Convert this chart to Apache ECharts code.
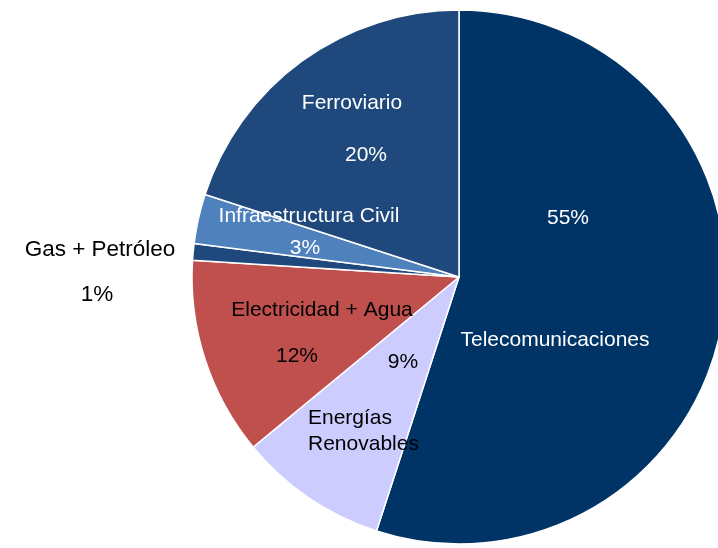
<!DOCTYPE html>
<html>
<head>
<meta charset="utf-8">
<script src="https://cdn.jsdelivr.net/npm/echarts@6/dist/echarts.min.js"></script>
<style>
html,body{margin:0;padding:0;background:#fff;}
#chart{width:718px;height:548px;}
</style>
</head>
<body>
<div id="chart"></div>
<script>
// Data
var categories = ['Telecomunicaciones', 'Energías Renovables', 'Electricidad + Agua', 'Gas + Petróleo', 'Infraestructura Civil', 'Ferroviario'];
var shares = [55, 9, 12, 1, 3, 20];

// Styles
var colors = ['#003366', '#ccccff', '#c0504d', '#1f497d', '#4f81bd', '#1f497d'];
var textColors = ['#ffffff', '#000000', '#000000', '#000000', '#ffffff', '#ffffff'];
var fontSizes = [21, 21, 21, 22.5, 21, 21];
var wrapped = [false, true, false, false, false, false];
var namePos = [[555, 340], [308, 431], [322, 310], [100, 250], [309, 216], [352, 103]];
var nameAlign = ['center', 'left', 'center', 'center', 'center', 'center'];
var pctPos = [[568, 218], [403, 362], [297, 356], [97, 295], [305, 248], [366, 155]];

var FONT = "'Liberation Sans', Arial, sans-serif";

var chart = echarts.init(document.getElementById('chart'));
chart.setOption({
  animation: false,
  backgroundColor: '#ffffff',
  series: [
    {
      type: 'pie',
      center: [459, 277],
      radius: 267,
      startAngle: 90,
      clockwise: true,
      avoidLabelOverlap: false,
      itemStyle: { borderColor: '#ffffff', borderWidth: 1.5 },
      label: {
        show: true, position: 'inside', fontFamily: FONT, lineHeight: 26,
        formatter: function (p) { return wrapped[p.dataIndex] ? p.name.replace(' ', '\n') : p.name; }
      },
      labelLine: { show: false },
      labelLayout: function (p) {
        var i = p.dataIndex;
        return { x: namePos[i][0], y: namePos[i][1], align: nameAlign[i], verticalAlign: 'middle' };
      },
      data: categories.map(function (c, i) {
        return { name: c, value: shares[i], itemStyle: { color: colors[i] },
          label: { color: textColors[i], fontSize: fontSizes[i] } };
      })
    },
    {
      type: 'pie',
      silent: true,
      center: [459, 277],
      radius: 267,
      startAngle: 90,
      clockwise: true,
      avoidLabelOverlap: false,
      itemStyle: { color: 'rgba(0,0,0,0)', borderWidth: 0 },
      label: {
        show: true, position: 'inside', fontFamily: FONT,
        formatter: function (p) { return Math.round(p.percent) + '%'; }
      },
      labelLine: { show: false },
      labelLayout: function (p) {
        var i = p.dataIndex;
        return { x: pctPos[i][0], y: pctPos[i][1], align: 'center', verticalAlign: 'middle' };
      },
      data: categories.map(function (c, i) {
        return { name: c, value: shares[i], itemStyle: { color: 'rgba(0,0,0,0)' },
          label: { color: textColors[i], fontSize: fontSizes[i] } };
      })
    }
  ]
});
</script>
</body>
</html>
